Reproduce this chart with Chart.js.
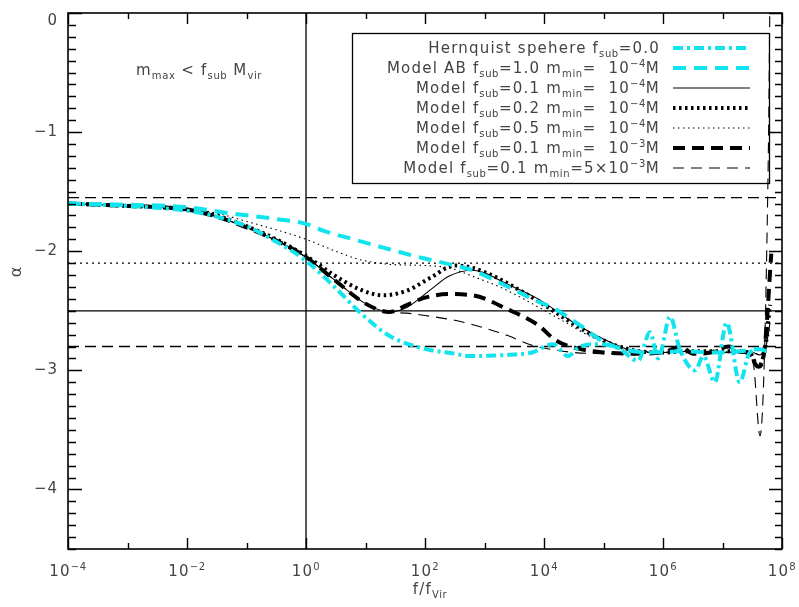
<!DOCTYPE html>
<html>
<head>
<meta charset="utf-8">
<script src="https://cdn.jsdelivr.net/npm/chart.js@4.4.1/dist/chart.umd.min.js"></script>
<style>
  html, body { margin: 0; padding: 0; background: #fff; }
  #wrap { width: 799px; height: 607px; }
</style>
</head>
<body>
<div id="wrap"><canvas id="c" width="799" height="607"></canvas></div>
<script>
// x is log10(f/f_vir), y is the local slope alpha
const xMin = -4, xMax = 8;
const yMin = -4.5, yMax = 0;

const hernX = [-4, -3, -2, -1.5, -1, -0.5, 0, 0.5, 0.9, 1.4, 2.0, 2.5, 2.75, 3.4, 3.8, 4.15, 4.4, 4.6, 4.95, 5.27, 5.58, 5.78, 5.92, 6.12, 6.28, 6.54, 6.68, 6.87, 7.07, 7.29, 7.46, 7.69];
const hernY = [-1.60, -1.62, -1.66, -1.71, -1.79, -1.92, -2.08, -2.31, -2.51, -2.71, -2.82, -2.86, -2.88, -2.87, -2.85, -2.78, -2.88, -2.80, -2.78, -2.82, -2.92, -2.68, -2.90, -2.55, -2.82, -3.00, -2.88, -3.10, -2.60, -3.10, -2.85, -2.82];

const abX = [-4, -3, -2, -1.3, -0.5, 0, 0.3, 0.8, 1.3, 1.9, 2.5, 2.8, 3.4, 3.8, 4.2, 4.6, 5.0, 5.4, 5.8, 6.3, 6.8, 7.3, 7.6, 7.75];
const abY = [-1.60, -1.61, -1.63, -1.68, -1.73, -1.77, -1.83, -1.90, -1.97, -2.05, -2.12, -2.16, -2.30, -2.40, -2.49, -2.62, -2.76, -2.83, -2.85, -2.84, -2.85, -2.84, -2.82, -2.84];

const sub01X = [-4, -3, -2, -1.5, -1, -0.5, 0, 0.5, 1, 1.4, 1.7, 2.1, 2.4, 2.8, 3.4, 3.9, 4.5, 5.05, 5.45, 6.0, 6.5, 7.0, 7.45, 7.62, 7.72, 7.8];
const sub01Y = [-1.60, -1.62, -1.65, -1.71, -1.80, -1.91, -2.05, -2.25, -2.44, -2.51, -2.47, -2.32, -2.21, -2.16, -2.28, -2.40, -2.60, -2.75, -2.83, -2.85, -2.84, -2.85, -2.84, -2.87, -2.82, -2.60];

const sub02X = [-4, -3, -2, -1.5, -1, -0.5, 0, 0.5, 0.9, 1.3, 1.7, 2.1, 2.5, 2.8, 3.2, 3.6, 4.0, 4.4, 4.8, 5.2, 5.6, 6.0, 6.5, 7.0, 7.45, 7.6, 7.7, 7.8];
const sub02Y = [-1.60, -1.62, -1.65, -1.70, -1.79, -1.90, -2.04, -2.21, -2.32, -2.37, -2.33, -2.22, -2.12, -2.14, -2.22, -2.33, -2.45, -2.58, -2.70, -2.79, -2.84, -2.85, -2.84, -2.84, -2.85, -2.97, -2.85, -2.45];

const sub05X = [-4, -3, -2, -1.5, -1, -0.5, 0, 0.5, 0.9, 1.4, 2.0, 2.4, 2.8, 3.3, 3.8, 4.3, 4.8, 5.3, 5.7, 6.2, 6.8, 7.3, 7.6, 7.72, 7.8];
const sub05Y = [-1.60, -1.61, -1.64, -1.68, -1.75, -1.82, -1.90, -2.00, -2.07, -2.11, -2.12, -2.14, -2.21, -2.31, -2.44, -2.58, -2.72, -2.81, -2.84, -2.85, -2.84, -2.85, -2.86, -2.83, -2.65];

const min3X = [-4, -3, -2, -1.5, -1, -0.5, 0, 0.5, 1, 1.4, 1.7, 2.0, 2.4, 2.8, 3.4, 3.9, 4.2, 4.6, 5.0, 5.5, 6.0, 6.3, 6.5, 6.8, 7.1, 7.3, 7.45, 7.6, 7.7, 7.82];
const min3Y = [-1.60, -1.62, -1.65, -1.71, -1.80, -1.91, -2.05, -2.25, -2.44, -2.51, -2.45, -2.39, -2.36, -2.37, -2.49, -2.62, -2.75, -2.82, -2.85, -2.86, -2.85, -2.80, -2.86, -2.85, -2.80, -2.84, -2.86, -2.97, -2.85, -2.02];

const min5X = [-4, -3, -2, -1.5, -1, -0.5, 0, 0.5, 1, 1.4, 1.7, 2.0, 2.5, 2.9, 3.4, 3.8, 4.2, 4.5, 5.0, 5.5, 6.0, 6.5, 7.0, 7.4, 7.52, 7.63, 7.77, 7.8];
const min5Y = [-1.60, -1.62, -1.65, -1.71, -1.80, -1.91, -2.05, -2.25, -2.44, -2.51, -2.52, -2.54, -2.58, -2.63, -2.71, -2.79, -2.83, -2.85, -2.86, -2.85, -2.85, -2.84, -2.85, -2.86, -2.95, -3.55, -1.2, 0.3];

// horizontal guide levels and the vertical guide at f = f_vir
const dashedLevels = [-1.55, -2.8];
const dottedLevel = -2.1;
const solidLevel = -2.5;
const guideX = 0;

const xMajor = [-4, -2, 0, 2, 4, 6, 8];
const xMinor = [-3, -1, 1, 3, 5, 7];
const yMajor = [0, -1, -2, -3, -4];

const CYAN = '#12e4ee';
const INK = '#444';
const FONT = '"DejaVu Sans", sans-serif';
const SPACING = '1.2px';

// rich-text runs: s = 'sub' | 'sup' | undefined
const legendRows = [
  [{t: 'Hernquist spehere f'}, {t: 'sub', s: 'sub'}, {t: '=0.0'}],
  [{t: 'Model AB f'}, {t: 'sub', s: 'sub'}, {t: '=1.0 m'}, {t: 'min', s: 'sub'}, {t: '=  10'}, {t: '\u22124', s: 'sup'}, {t: 'M'}],
  [{t: 'Model f'}, {t: 'sub', s: 'sub'}, {t: '=0.1 m'}, {t: 'min', s: 'sub'}, {t: '=  10'}, {t: '\u22124', s: 'sup'}, {t: 'M'}],
  [{t: 'Model f'}, {t: 'sub', s: 'sub'}, {t: '=0.2 m'}, {t: 'min', s: 'sub'}, {t: '=  10'}, {t: '\u22124', s: 'sup'}, {t: 'M'}],
  [{t: 'Model f'}, {t: 'sub', s: 'sub'}, {t: '=0.5 m'}, {t: 'min', s: 'sub'}, {t: '=  10'}, {t: '\u22124', s: 'sup'}, {t: 'M'}],
  [{t: 'Model f'}, {t: 'sub', s: 'sub'}, {t: '=0.1 m'}, {t: 'min', s: 'sub'}, {t: '=  10'}, {t: '\u22123', s: 'sup'}, {t: 'M'}],
  [{t: 'Model f'}, {t: 'sub', s: 'sub'}, {t: '=0.1 m'}, {t: 'min', s: 'sub'}, {t: '=5\u00d710'}, {t: '\u22123', s: 'sup'}, {t: 'M'}]
];
const noteText = [{t: 'm'}, {t: 'max', s: 'sub'}, {t: ' < f'}, {t: 'sub', s: 'sub'}, {t: ' M'}, {t: 'vir', s: 'sub'}];
const xTitle = [{t: 'f/f'}, {t: 'Vir', s: 'sub'}];
const yTitle = '\u03b1';

function pts(xs, ys) {
  return xs.map((x, i) => ({x, y: ys[i]}));
}

function curve(xs, ys, color, width, dash) {
  return {
    data: pts(xs, ys),
    borderColor: color,
    borderWidth: width,
    borderDash: dash,
    cubicInterpolationMode: 'monotone',
    pointRadius: 0,
    fill: false,
    order: 0,
    inLegend: true
  };
}

function guide(data, dash) {
  return {
    data,
    borderColor: '#000',
    borderWidth: 1.3,
    borderDash: dash,
    tension: 0,
    pointRadius: 0,
    fill: false,
    order: 5,
    inLegend: false
  };
}

const datasets = [
  curve(hernX, hernY, CYAN, 4, [10, 4, 3, 4]),
  curve(abX, abY, CYAN, 4, [13, 8]),
  curve(sub01X, sub01Y, '#000', 1.1, []),
  curve(sub02X, sub02Y, '#000', 4, [2.5, 3.5]),
  curve(sub05X, sub05Y, '#000', 1.1, [1.5, 3.5]),
  curve(min3X, min3Y, '#000', 4, [12, 7]),
  curve(min5X, min5Y, '#000', 1.1, [11, 7]),
  ...dashedLevels.map(v => guide([{x: xMin, y: v}, {x: xMax, y: v}], [11, 6])),
  guide([{x: xMin, y: dottedLevel}, {x: xMax, y: dottedLevel}], [2, 4]),
  guide([{x: xMin, y: solidLevel}, {x: xMax, y: solidLevel}], []),
  guide([{x: guideX, y: yMin}, {x: guideX, y: yMax}], [])
];

// draw a run of normal / subscript / superscript text
function setRunFont(ctx, r, size) {
  ctx.font = (r.s ? Math.round(size * 0.68) : size) + 'px ' + FONT;
  ctx.letterSpacing = r.s ? '0.6px' : SPACING;
}

function richWidth(ctx, runs, size) {
  let w = 0;
  runs.forEach(r => {
    setRunFont(ctx, r, size);
    w += ctx.measureText(r.t).width;
  });
  return w;
}

function drawRich(ctx, runs, x, y, align, size) {
  const w = richWidth(ctx, runs, size);
  let cx = align === 'right' ? x - w : align === 'center' ? x - w / 2 : x;
  ctx.textAlign = 'left';
  ctx.textBaseline = 'alphabetic';
  runs.forEach(r => {
    setRunFont(ctx, r, size);
    const dy = r.s === 'sub' ? size * 0.28 : r.s === 'sup' ? -size * 0.42 : 0;
    ctx.fillText(r.t, cx, y + dy);
    cx += ctx.measureText(r.t).width;
  });
  ctx.letterSpacing = '0px';
}

const axesPlugin = {
  id: 'idlAxes',
  afterDraw(chart) {
    const ctx = chart.ctx;
    const a = chart.chartArea;
    const xs = chart.scales.x, ys = chart.scales.y;
    ctx.save();

    // frame
    ctx.strokeStyle = '#000';
    ctx.lineWidth = 1.6;
    ctx.setLineDash([]);
    ctx.strokeRect(a.left, a.top, a.right - a.left, a.bottom - a.top);

    // inward tick marks on all four sides
    ctx.lineWidth = 1.4;
    ctx.beginPath();
    xMajor.concat(xMinor).forEach(v => {
      const len = xMajor.includes(v) ? 11 : 6;
      const px = Math.round(xs.getPixelForValue(v)) + 0.5;
      ctx.moveTo(px, a.bottom); ctx.lineTo(px, a.bottom - len);
      ctx.moveTo(px, a.top); ctx.lineTo(px, a.top + len);
    });
    for (let k = 0; k <= 45; k++) {
      const v = -k / 10;
      const major = k % 10 === 0;
      const py = Math.round(ys.getPixelForValue(v)) + 0.5;
      ctx.moveTo(a.left, py); ctx.lineTo(a.left + (major ? 14 : 8), py);
      ctx.moveTo(a.right, py); ctx.lineTo(a.right - (major ? 13 : 7), py);
    }
    ctx.stroke();

    ctx.fillStyle = INK;
    // x tick labels 10^n
    xMajor.forEach(v => {
      const exp = v < 0 ? '\u2212' + Math.abs(v) : String(v);
      drawRich(ctx, [{t: '10'}, {t: exp, s: 'sup'}], xs.getPixelForValue(v), a.bottom + 27, 'center', 15);
    });
    // y tick labels
    ctx.font = '15px ' + FONT;
    ctx.letterSpacing = '1px';
    ctx.textAlign = 'right';
    ctx.textBaseline = 'middle';
    yMajor.forEach(v => {
      const label = v < 0 ? '\u2212' + Math.abs(v) : String(v);
      const py = ys.getPixelForValue(v) + (v === 0 ? 8 : 0);
      ctx.fillText(label, a.left - 10, py);
    });
    ctx.letterSpacing = '0px';

    // axis titles
    drawRich(ctx, xTitle, 430, 594, 'center', 15);
    ctx.save();
    ctx.translate(17, 272);
    ctx.rotate(-Math.PI / 2);
    ctx.font = '16px ' + FONT;
    ctx.textAlign = 'center';
    ctx.textBaseline = 'middle';
    ctx.fillText(yTitle, 0, 0);
    ctx.restore();

    // annotation
    drawRich(ctx, noteText, 136, 75, 'left', 15);

    // legend box
    ctx.strokeStyle = '#000';
    ctx.lineWidth = 1.3;
    ctx.strokeRect(352.5, 33.5, 417, 150);
    const rows = chart.data.datasets.filter(d => d.inLegend);
    rows.forEach((d, i) => {
      const cy = 48 + i * 20;
      ctx.fillStyle = INK;
      drawRich(ctx, legendRows[i], 660, cy + 5, 'right', 15);
      ctx.strokeStyle = d.borderColor;
      ctx.lineWidth = d.borderWidth;
      ctx.setLineDash(d.borderDash);
      ctx.beginPath();
      ctx.moveTo(673, cy);
      ctx.lineTo(750, cy);
      ctx.stroke();
    });
    ctx.restore();
  }
};

new Chart(document.getElementById('c'), {
  type: 'line',
  data: { datasets },
  options: {
    responsive: false,
    animation: false,
    events: [],
    layout: { padding: { top: 13, right: 17, left: 0, bottom: 0 } },
    plugins: { legend: { display: false }, tooltip: { enabled: false } },
    scales: {
      x: {
        type: 'linear', min: xMin, max: xMax,
        ticks: { display: false }, grid: { display: false }, border: { display: false },
        afterFit: s => { s.height = 58; }
      },
      y: {
        type: 'linear', min: yMin, max: yMax,
        ticks: { display: false }, grid: { display: false }, border: { display: false },
        afterFit: s => { s.width = 68; }
      }
    }
  },
  plugins: [axesPlugin]
});
</script>
</body>
</html>
